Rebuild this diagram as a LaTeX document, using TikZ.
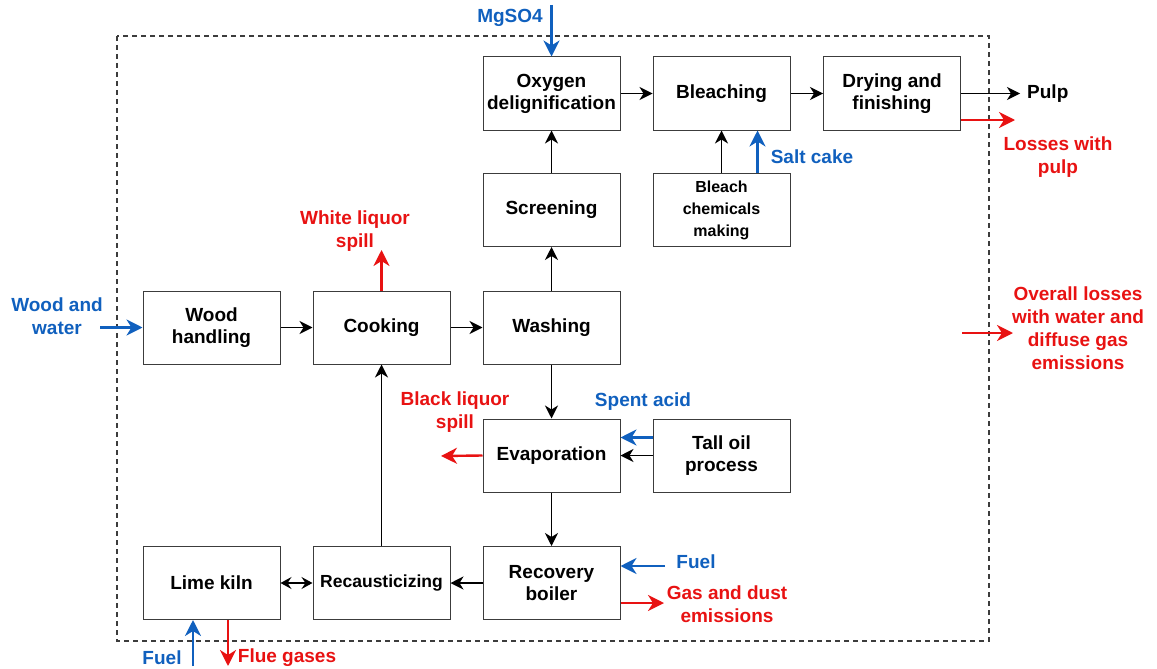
\documentclass[tikz,border=0pt]{standalone}
\usepackage{fontspec}
\setmainfont{Liberation Sans}
\usetikzlibrary{arrows.meta, positioning, calc}
\definecolor{inflow}{RGB}{16, 96, 190}
\definecolor{outflow}{RGB}{232, 18, 18}
\definecolor{boxline}{RGB}{60, 60, 60}
\begin{document}
\begin{tikzpicture}[
    x=1pt, y=-1pt,
    unit/.style={rectangle, draw=boxline, line width=1pt, minimum width=137pt, minimum height=73pt, inner sep=2pt, align=center, font=\fontsize{19}{22}\selectfont\bfseries},
    tag/.style={align=center, font=\fontsize{19}{23}\selectfont\bfseries, inner sep=1pt},
    flow/.style={line width=1.3pt, -{Stealth[length=13pt, width=13pt, inset=4pt]}},
    feed/.style={draw=inflow, line width=2.4pt, -{Stealth[length=16pt, width=16pt, inset=5pt]}, inflow},
    loss/.style={draw=outflow, line width=2.4pt, -{Stealth[length=16pt, width=16pt, inset=5pt]}, outflow}
]
    \useasboundingbox (0,0) rectangle (1157,669);

    % System boundary
    \draw[boxline, line width=1.2pt, dash pattern=on 5pt off 4pt] (117,36) rectangle (989,641);

    % Process units
    \node[unit] (oxy) at (551.5,93.5) {Oxygen\\delignification};
    \node[unit] (bleach) at (721.5,93.5) {Bleaching};
    \node[unit] (dry) at (892,93.5) {Drying and\\finishing};
    \node[unit] (screen) at (551.5,210) {Screening};
    \node[unit, font=\fontsize{16}{22}\selectfont\bfseries] (chem) at (721.5,210) {Bleach\\chemicals\\making};
    \node[unit] (wood) at (211.5,327.5) {Wood\\handling};
    \node[unit] (cook) at (381.5,327.5) {Cooking};
    \node[unit] (wash) at (551.5,327.5) {Washing};
    \node[unit] (evap) at (551.5,455.5) {Evaporation};
    \node[unit] (tall) at (721.5,455.5) {Tall oil\\process};
    \node[unit] (lime) at (211.5,583) {Lime kiln};
    \node[unit, font=\fontsize{17.5}{22}\selectfont\bfseries] (recaus) at (381.5,583) {Recausticizing};
    \node[unit] (recov) at (551.5,583) {Recovery\\boiler};

    % Stream labels
    \node[tag, text=inflow] (mgso4) at (510,18) {MgSO4};
    \node[tag, anchor=west] (pulp) at (1026,94) {Pulp};
    \node[tag, text=outflow] (pulploss) at (1058,157) {Losses with\\pulp};
    \node[tag, text=inflow] (salt) at (812,157) {Salt cake};
    \node[tag, text=outflow] (white) at (355,231) {White liquor\\spill};
    \node[tag, text=inflow] (woodin) at (57,316) {Wood and\\water};
    \node[tag, text=outflow] (black) at (455,412) {Black liquor\\spill};
    \node[tag, text=inflow] (acid) at (643,402) {Spent acid};
    \node[tag, text=inflow] (fuelrb) at (696,562) {Fuel};
    \node[tag, text=outflow] (dust) at (727,604) {Gas and dust\\emissions};
    \node[tag, text=inflow] (fuellk) at (162,658) {Fuel};
    \node[tag, text=outflow] (flue) at (287,658) {Flue gases};
    \node[tag, text=outflow] (overall) at (1078,328) {Overall losses\\with water and\\diffuse gas\\emissions};

    % Free ends
    \coordinate (mgtop) at (551.5,5);
    \coordinate (pulpend) at (1020,93.5);
    \coordinate (pulplossend) at (1015,120);
    \coordinate (whiteend) at (381.5,250);
    \coordinate (woodstart) at (100,327.5);
    \coordinate (blackend) at (441,456);
    \coordinate (fuelrbstart) at (665,566);
    \coordinate (dustend) at (664,603);
    \coordinate (fuellkstart) at (193,666);
    \coordinate (flueend) at (228,666);
    \coordinate (overallstart) at (962,333);
    \coordinate (overallend) at (1013,333);

    % Main line
    \draw[flow] (wood) -- (cook);
    \draw[flow] (cook) -- (wash);
    \draw[flow] (wash) -- (screen);
    \draw[flow] (screen) -- (oxy);
    \draw[flow] (oxy) -- (bleach);
    \draw[flow] (bleach) -- (dry);
    \draw[flow] (dry.east) -- (pulpend);
    \draw[flow] (chem.north) -- (bleach.south);
    \draw[flow] (wash) -- (evap);
    \draw[flow] (tall) -- (evap);
    \draw[flow] (evap) -- (recov);
    \draw[flow] (recov) -- (recaus);
    \draw[flow] (recaus) -- (cook);
    \draw[line width=1.3pt, {Stealth[length=11pt, width=12pt, inset=4pt]}-{Stealth[length=11pt, width=12pt, inset=4pt]}] (lime) -- (recaus);

    % Inputs
    \draw[feed] (mgtop) -- (oxy.north);
    \draw[feed] ([xshift=36pt]chem.north) -- ([xshift=36pt]bleach.south);
    \draw[feed] (woodstart) -- (wood.west);
    \draw[feed] ([yshift=18pt]tall.west) -- ([yshift=18pt]evap.east);
    \draw[feed] (fuelrbstart) -- (recov.east |- fuelrbstart);
    \draw[feed] (fuellkstart) -- (lime.south -| fuellkstart);

    % Losses
    \draw[loss] (dry.east |- pulplossend) -- (pulplossend);
    \draw[loss] (cook.north) -- (whiteend);
    \draw[loss] (evap.west) -- (blackend);
    \draw[loss] (recov.east |- dustend) -- (dustend);
    \draw[loss] (lime.south -| flueend) -- (flueend);
    \draw[loss] (overallstart) -- (overallend);
\end{tikzpicture}
\end{document}
